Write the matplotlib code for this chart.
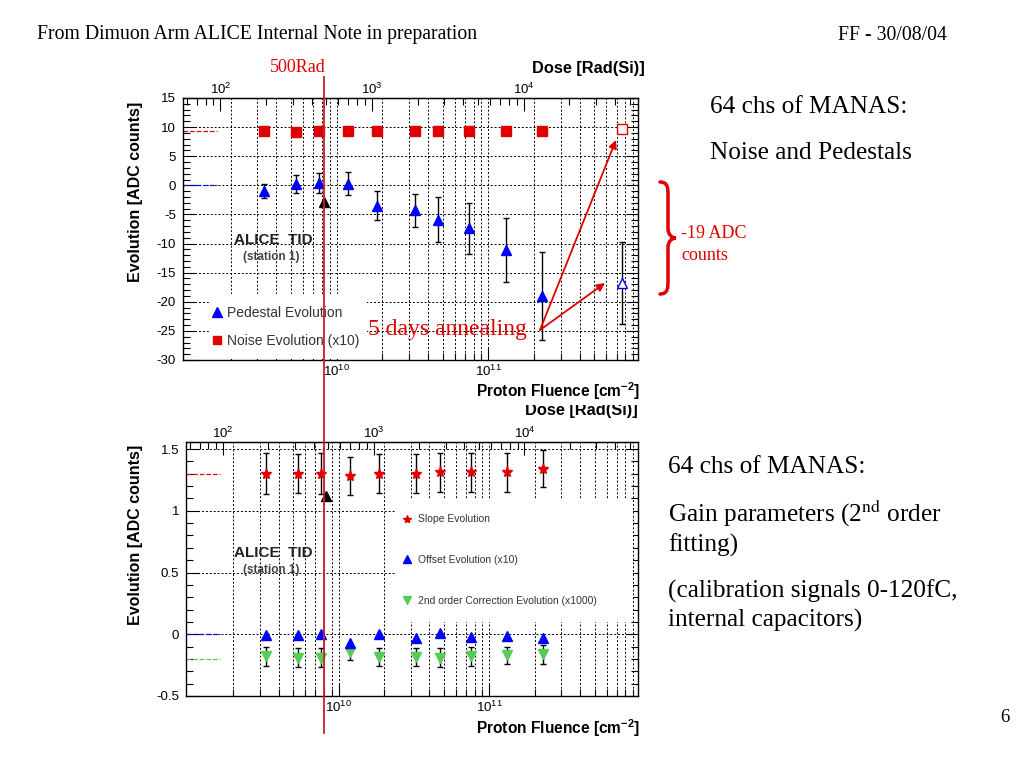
import numpy as np
import matplotlib
matplotlib.use("Agg")
import matplotlib.pyplot as plt
import matplotlib.ticker as ticker
from matplotlib.lines import Line2D
from matplotlib.patches import Rectangle, PathPatch
from matplotlib.path import Path

plt.rcParams["font.family"] = ["Liberation Sans", "DejaVu Sans"]
plt.rcParams["mathtext.fontset"] = "custom"
plt.rcParams["mathtext.rm"] = "Liberation Sans"
plt.rcParams["mathtext.it"] = "Liberation Sans:italic"
plt.rcParams["mathtext.bf"] = "Liberation Sans:bold"

# --- data ---
fluence = [3.3e9, 5.4e9, 7.6e9, 1.19e10, 1.85e10, 3.28e10, 4.67e10, 7.5e10, 1.31e11, 2.27e11]
fluence_500rad = 8.3e9
fluence_annealed = 7.6e11
dose_per_fluence = 5.85e-8  # Rad(Si) per p/cm2
fluence_ticks = [1e10, 1e11]
dose_ticks = [1e2, 1e3, 1e4]

noise = [9.4, 9.2, 9.3, 9.3, 9.3, 9.4, 9.4, 9.3, 9.3, 9.4]
noise_annealed = 9.6
noise_ref = 9.3
pedestal = [-1.0, 0.2, 0.35, 0.3, -3.5, -4.3, -5.9, -7.4, -11.1, -19.0]
pedestal_err = [1.2, 1.5, 1.7, 2.0, 2.5, 2.8, 3.9, 4.4, 5.5, 7.5]
pedestal_500rad = -2.8
pedestal_annealed = -16.8
pedestal_annealed_err = 7.1
pedestal_ref = 0.0

slope = [1.30, 1.30, 1.30, 1.28, 1.30, 1.30, 1.31, 1.31, 1.31, 1.34]
slope_err = [0.165, 0.16, 0.165, 0.155, 0.16, 0.16, 0.16, 0.16, 0.155, 0.15]
slope_500rad = 1.12
slope_ref = 1.3
offset = [-0.01, -0.005, 0.0, -0.07, 0.0, -0.027, 0.01, -0.02, -0.016, -0.03]
offset_ref = 0.0
second = [-0.18, -0.19, -0.19, -0.143, -0.185, -0.185, -0.19, -0.18, -0.17, -0.16]
second_err = [0.075, 0.075, 0.075, 0.065, 0.075, 0.075, 0.075, 0.075, 0.07, 0.077]
second_ref = -0.2

RED = "#e00000"
SERIF = "Liberation Serif"
W, H = 1024, 768

fig = plt.figure(figsize=(W / 100, H / 100), dpi=100)


def px_rect(l, t, r, b):
    return [l / W, 1 - b / H, (r - l) / W, (b - t) / H]


def fx(x):
    return x / W


def fy(y):
    return 1 - y / H


def style(ax, ylim, major, minor):
    ax.set_xscale("log")
    ax.set_xlim(9.7e8, 9.7e11)
    ax.set_ylim(*ylim)
    ax.yaxis.set_major_locator(ticker.MultipleLocator(major))
    ax.yaxis.set_minor_locator(ticker.MultipleLocator(minor))
    ax.yaxis.set_major_formatter(ticker.FormatStrFormatter("%g"))
    ax.xaxis.set_major_locator(ticker.FixedLocator(fluence_ticks))
    ax.xaxis.set_major_formatter(ticker.LogFormatterSciNotation())
    ax.xaxis.set_minor_locator(ticker.LogLocator(base=10, subs=np.arange(2, 10), numticks=30))
    ax.xaxis.set_minor_formatter(ticker.NullFormatter())
    ax.tick_params(which="both", direction="in", right=True, top=False,
                   labelsize=9.5, width=0.8)
    ax.tick_params(which="major", length=9, pad=5)
    ax.tick_params(axis="x", which="major", pad=3)
    ax.tick_params(which="minor", length=5)
    ax.grid(True, axis="x", which="both", color="black", linestyle=(0, (2, 2)), linewidth=0.7)
    ax.grid(True, axis="y", which="major", color="black", linestyle=(0, (2, 2)), linewidth=0.7)
    for s in ax.spines.values():
        s.set_linewidth(1.0)
    sec = ax.secondary_xaxis("top", functions=(lambda x: x * dose_per_fluence,
                                                lambda x: x / dose_per_fluence))
    sec.xaxis.set_major_locator(ticker.FixedLocator(dose_ticks))
    sec.xaxis.set_major_formatter(ticker.LogFormatterSciNotation())
    sec.xaxis.set_minor_locator(ticker.LogLocator(base=10, subs=np.arange(2, 10), numticks=30))
    sec.xaxis.set_minor_formatter(ticker.NullFormatter())
    sec.tick_params(which="both", direction="in", labelsize=9.5, width=0.8)
    sec.tick_params(which="major", length=9, pad=1)
    sec.tick_params(which="minor", length=5)
    ax.set_ylabel("Evolution [ADC counts]", fontsize=11.5, fontweight="bold")
    return sec


# ── Top panel: noise and pedestals ──
ax1 = fig.add_axes(px_rect(183, 98, 638, 360))
style(ax1, (-30, 15), 5, 1)
ax1.yaxis.set_label_coords(-0.088, 0.64)
ax1.axhline(noise_ref, xmax=0.075, color=RED, linestyle="--", linewidth=0.9)
ax1.axhline(pedestal_ref, xmax=0.075, color="blue", linestyle="--", linewidth=0.9)
ax1.errorbar(fluence, pedestal, yerr=pedestal_err, fmt="^", color="blue", ms=7,
             ecolor="black", elinewidth=1, capsize=2, zorder=4)
ax1.plot(fluence, noise, "s", color=RED, ms=7, zorder=5)
ax1.plot([fluence_500rad], [pedestal_500rad], "^", color="black", ms=7, zorder=5)
ax1.errorbar([fluence_annealed], [pedestal_annealed], yerr=[pedestal_annealed_err], fmt="^",
             mfc="white", mec="blue", ms=7, ecolor="black", elinewidth=1, capsize=2, zorder=4)
ax1.plot([fluence_annealed], [noise_annealed], "s", mfc="white", mec=RED, ms=7, zorder=5)
ax1.add_patch(Rectangle((0.06, 0.003), 0.345, 0.25, transform=ax1.transAxes,
                        facecolor="white", edgecolor="none", zorder=2))
ax1.legend(handles=[Line2D([], [], marker="^", color="blue", ls="none", ms=7),
                    Line2D([], [], marker="s", color=RED, ls="none", ms=6)],
           labels=["Pedestal Evolution", "Noise Evolution (x10)"],
           loc="lower left", bbox_to_anchor=(0.035, 0.0), frameon=False, fontsize=10,
           labelcolor="#333333", handlelength=0.8, handletextpad=0.3, labelspacing=1.0)

# ── Bottom panel: gain parameters ──
ax2 = fig.add_axes(px_rect(186, 442, 638, 696))
style(ax2, (-0.5, 1.557), 0.5, 0.1)
ax2.yaxis.set_label_coords(-0.095, 0.634)
ax2.axhline(slope_ref, xmax=0.075, color=RED, linestyle="--", linewidth=0.9)
ax2.axhline(offset_ref, xmax=0.075, color="blue", linestyle="--", linewidth=0.9)
ax2.axhline(second_ref, xmax=0.075, color="#55cc55", linestyle="--", linewidth=0.9)
ax2.errorbar(fluence, slope, yerr=slope_err, fmt="*", color=RED, ms=8,
             ecolor="black", elinewidth=1, capsize=2, zorder=4)
ax2.plot(fluence, offset, "^", color="blue", ms=7, zorder=5)
ax2.errorbar(fluence, second, yerr=second_err, fmt="v", color="#55cc55", ms=7,
             ecolor="black", elinewidth=1, capsize=2, zorder=4)
ax2.plot([fluence_500rad], [slope_500rad], "^", color="black", ms=7, zorder=5)
ax2.add_patch(Rectangle((0.462, 0.291), 0.527, 0.481, transform=ax2.transAxes,
                        facecolor="white", edgecolor="none", zorder=2))
ax2.legend(handles=[Line2D([], [], marker="*", color=RED, ls="none", ms=6),
                    Line2D([], [], marker="^", color="blue", ls="none", ms=5.5),
                    Line2D([], [], marker="v", color="#55cc55", ls="none", ms=5.5)],
           labels=["Slope Evolution", "Offset Evolution (x10)",
                   "2nd order Correction Evolution (x1000)"],
           loc="upper left", bbox_to_anchor=(0.46, 0.752), frameon=False, fontsize=7.5,
           labelcolor="#333333", handlelength=0.8, handletextpad=0.6, labelspacing=2.95)

# ── axis titles and in-plot texts (figure pixels) ──
fluence_label = r"Proton Fluence [cm$^{\mathbf{-2}}$]"
fig.text(fx(640), fy(391), fluence_label, fontsize=11.2, fontweight="bold", ha="right", va="center")
fig.text(fx(640), fy(728), fluence_label, fontsize=11.2, fontweight="bold", ha="right", va="center")
fig.text(fx(645), fy(68), "Dose [Rad(Si)]", fontsize=11.8, fontweight="bold", ha="right", va="center")
fig.text(fx(638), fy(410), "Dose [Rad(Si)]", fontsize=11.8, fontweight="bold", ha="right", va="center")
fig.add_artist(Rectangle((fx(500), fy(405)), 150 / W, 6 / H, transform=fig.transFigure,
                         facecolor="white", edgecolor="none", zorder=5))

for ytop in (240, 553):
    fig.text(fx(273), fy(ytop), "ALICE  TID", fontsize=11, fontweight="bold",
             ha="center", va="center", color="#222222")
    fig.text(fx(271), fy(ytop + 17), "(station 1)", fontsize=8.5, fontweight="bold",
             ha="center", va="center", color="#444444")

# 500 Rad marker line across both panels
x500 = ax1.transData.transform((fluence_500rad, 0))[0] / W
fig.add_artist(Line2D([x500, x500], [fy(77), fy(733)], color="#cc2020", lw=1.3, zorder=6))
fig.text(fx(298), fy(67), "500Rad", color=RED, fontsize=13, family=SERIF,
         ha="center", va="center")

# annealing annotation
fig.text(fx(368), fy(330), "5 days annealing", color=RED, fontsize=17, family=SERIF,
         ha="left", va="center", zorder=7)
for tx, ty in [(616, 140), (605, 283)]:
    fig.add_artist(plt.Annotation("", xy=(tx, H - ty), xytext=(540, H - 330),
                                  xycoords="figure pixels", textcoords="figure pixels",
                                  arrowprops=dict(arrowstyle="-|>", color=RED, lw=1.3,
                                                  mutation_scale=12, shrinkA=0, shrinkB=0)))

# red curly brace and its label
bx, by0, by1 = 660, 182, 294
bm = (by0 + by1) / 2
verts = [(bx, by0), (bx + 8, by0), (bx + 8, by0 + 6), (bx + 8, by0 + 14),
         (bx + 8, bm - 10),
         (bx + 8, bm - 3), (bx + 12, bm), (bx + 16, bm),
         (bx + 12, bm), (bx + 8, bm + 3), (bx + 8, bm + 10),
         (bx + 8, by1 - 14),
         (bx + 8, by1 - 6), (bx + 8, by1), (bx, by1)]
codes = [Path.MOVETO, Path.CURVE4, Path.CURVE4, Path.CURVE4,
         Path.LINETO,
         Path.CURVE4, Path.CURVE4, Path.CURVE4,
         Path.CURVE4, Path.CURVE4, Path.CURVE4,
         Path.LINETO,
         Path.CURVE4, Path.CURVE4, Path.CURVE4]
verts = [(fx(x), fy(y)) for x, y in verts]
fig.add_artist(PathPatch(Path(verts, codes), transform=fig.transFigure, facecolor="none",
                         edgecolor=RED, lw=2.5, capstyle="round"))
fig.text(fx(681), fy(233), "-19 ADC", color=RED, fontsize=13, family=SERIF, va="center")
fig.text(fx(681), fy(255), "counts", color=RED, fontsize=13, family=SERIF, va="center")

# slide text
fig.text(fx(37), fy(35), "From Dimuon Arm ALICE Internal Note in preparation",
         fontsize=14.2, family=SERIF, va="center")
fig.text(fx(838), fy(35), "FF - 30/08/04", fontsize=14.2, family=SERIF, va="center")
fig.text(fx(1000), fy(718), "6", fontsize=13.5, family=SERIF, va="center")
fig.text(fx(710), fy(107), "64 chs of MANAS:", fontsize=18.2, family=SERIF, va="center")
fig.text(fx(710), fy(153), "Noise and Pedestals", fontsize=18.2, family=SERIF, va="center")
fig.text(fx(668), fy(467), "64 chs of MANAS:", fontsize=18.2, family=SERIF, va="center")
fig.text(fx(668), fy(513), "Gain parameters (2$^{\\mathrm{nd}}$ order", fontsize=18.2,
         family=SERIF, va="center", math_fontfamily="stix")
fig.text(fx(668), fy(545), "fitting)", fontsize=18.2, family=SERIF, va="center")
fig.text(fx(668), fy(591), "(calibration signals 0-120fC,", fontsize=18.2, family=SERIF, va="center")
fig.text(fx(668), fy(620), "internal capacitors)", fontsize=18.2, family=SERIF, va="center")

fig.savefig("out.png", dpi=100)
